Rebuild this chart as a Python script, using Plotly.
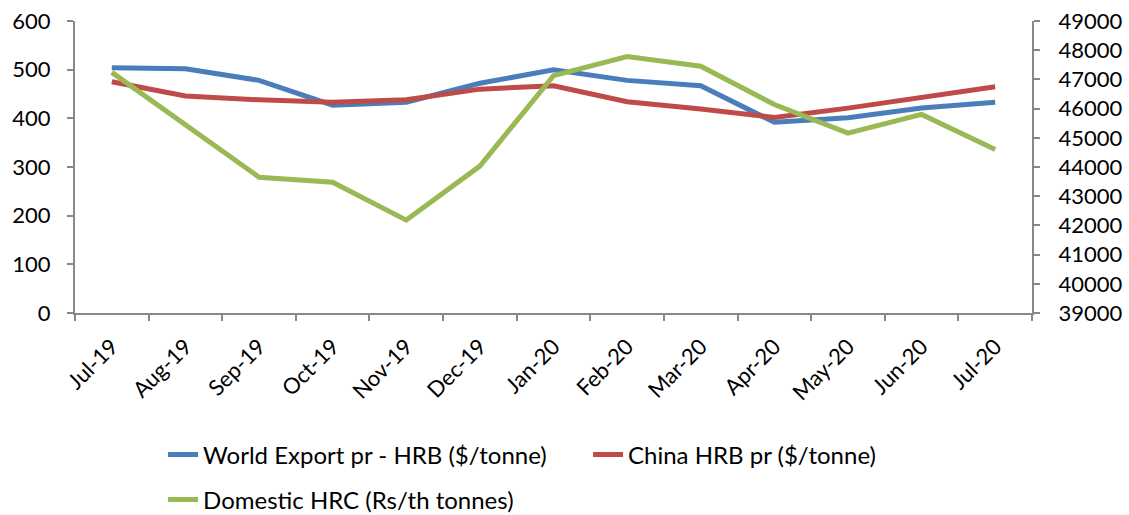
import plotly.graph_objects as go

months = ["Jul-19", "Aug-19", "Sep-19", "Oct-19", "Nov-19", "Dec-19", "Jan-20",
          "Feb-20", "Mar-20", "Apr-20", "May-20", "Jun-20", "Jul-20"]
world_export = [504, 502, 478, 427, 433, 472, 500, 478, 467, 392, 401, 421, 433]
china_hrb = [475, 446, 438, 433, 438, 460, 467, 434, 419, 402, 421, 443, 465]
domestic_hrc = [47240, 45420, 43650, 43480, 42180, 44030, 47130, 47780, 47450,
                46140, 45160, 45800, 44600]

FONT = "Lato"
axis_color = "#888888"

fig = go.Figure()
fig.add_trace(go.Scatter(x=months, y=world_export, mode="lines",
                         name="World Export pr - HRB ($/tonne)",
                         line=dict(color="#4A7EBB", width=5), legend="legend"))
fig.add_trace(go.Scatter(x=months, y=china_hrb, mode="lines",
                         name="China HRB pr ($/tonne)",
                         line=dict(color="#BE4B48", width=5), legend="legend"))
fig.add_trace(go.Scatter(x=months, y=domestic_hrc, mode="lines",
                         name="Domestic HRC (Rs/th tonnes)", yaxis="y2",
                         line=dict(color="#98B954", width=5), legend="legend2"))

tf = dict(size=22, family=FONT, color="black")
fig.update_layout(
    width=1129, height=515,
    margin=dict(l=75, r=97, t=21, b=202, autoexpand=False),
    paper_bgcolor="white", plot_bgcolor="white",
    font=dict(family=FONT, size=22, color="black"),
    xaxis=dict(type="category", range=[-0.5, 12.5], automargin=False,
               showgrid=False, showline=True, linecolor=axis_color,
               linewidth=2, ticks="outside", tickson="boundaries", ticklen=6,
               tickcolor=axis_color, tickwidth=2, tickangle=-45,
               ticklabelstandoff=10, tickfont=tf),
    yaxis=dict(range=[0, 600], dtick=100, automargin=False, showgrid=False,
               showline=True, linecolor=axis_color, linewidth=2, ticks="outside",
               ticklen=6, tickcolor=axis_color, tickwidth=2, zeroline=False,
               ticklabelstandoff=12, tickfont=tf),
    yaxis2=dict(range=[39000, 49000], dtick=1000, tickformat="d", automargin=False,
                overlaying="y", side="right",
                showgrid=False, showline=True, linecolor=axis_color, linewidth=2,
                ticks="outside", ticklen=6, tickcolor=axis_color, tickwidth=2,
                zeroline=False, ticklabelstandoff=14,
                tickfont=dict(size=22, family=FONT, color="black")),
    legend=dict(orientation="h", x=0.092, y=-0.486, xanchor="left", yanchor="middle",
                font=dict(size=24, family=FONT), itemwidth=30,
                entrywidth=380, entrywidthmode="pixels",
                bgcolor="rgba(0,0,0,0)"),
    legend2=dict(orientation="h", x=0.092, y=-0.64, xanchor="left", yanchor="middle",
                 font=dict(size=24, family=FONT), itemwidth=30,
                 bgcolor="rgba(0,0,0,0)"),
    showlegend=True,
)

fig.write_html("out.html", config={"displayModeBar": False},
               post_script="document.body.style.margin='0';document.body.style.overflow='hidden';")
